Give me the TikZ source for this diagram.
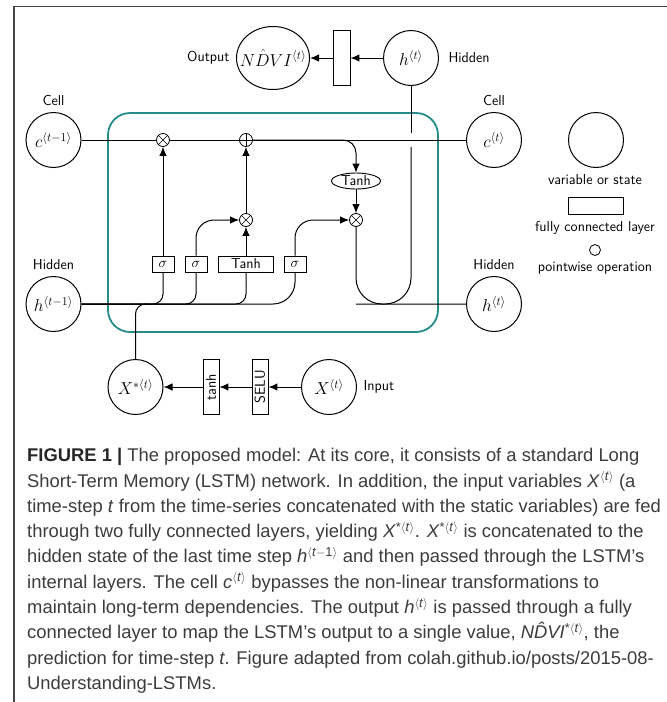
\documentclass[tikz,border=0pt]{standalone}
\usepackage{amsmath}
\usepackage{fontspec}
\usepackage{tikz}
\usetikzlibrary{calc}
\usetikzlibrary{positioning}
\usetikzlibrary{shapes.geometric}
\usetikzlibrary{arrows.meta}

\newfontfamily\capfont{Liberation Sans}
\definecolor{lstmteal}{RGB}{36,140,138}
\definecolor{framegray}{RGB}{70,70,70}
\definecolor{captext}{RGB}{60,60,60}
\newcommand{\capsup}[1]{\textsuperscript{#1$\langle$\textit{t}$\rangle$}}

\begin{document}
\begin{tikzpicture}[x=1pt,y=-1pt,
  every node/.style={font=\fontsize{14.4}{17}\selectfont\sffamily},
  wire/.style={line width=1pt},
  arr/.style={wire,-{Latex[length=9pt,width=7.5pt]}},
  var/.style={circle,draw,line width=1pt,minimum size=55pt,inner sep=0pt,font=\fontsize{17.28}{20}\selectfont},
  layer/.style={rectangle,draw,line width=0.9pt,minimum height=16pt,minimum width=22pt,inner sep=1pt},
  op/.style={circle,draw,line width=0.8pt,minimum size=13pt,inner sep=0pt,fill=white},
  mult/.style={op,path picture={\draw[line width=0.6pt] (path picture bounding box.south west) -- (path picture bounding box.north east) (path picture bounding box.north west) -- (path picture bounding box.south east);}},
  plus/.style={op,path picture={\draw[line width=0.6pt] (path picture bounding box.north) -- (path picture bounding box.south) (path picture bounding box.west) -- (path picture bounding box.east);}},
  capline/.style={anchor=base west,inner sep=0pt,text=captext,font=\capfont\fontsize{18.4}{22}\selectfont}]

\useasboundingbox (0,0) rectangle (667,702);
\draw[framegray,line width=1.3pt] (667,6.5) -- (14,6.5) -- (14,702);

% LSTM cell
\draw[lstmteal,line width=1.8pt,rounded corners=22] (108,113) rectangle (438,332);

\node[var] (cprev) at (53.5,140) {$c^{\langle t-1\rangle}$};
\node[var] (hprev) at (53.5,304) {$h^{\langle t-1\rangle}$};
\node[var] (cnext) at (494,140) {$c^{\langle t\rangle}$};
\node[var] (hnext) at (494,304) {$h^{\langle t\rangle}$};
\node[above=3pt of cprev] {Cell};
\node[above=3pt of hprev] {Hidden};
\node[above=3pt of cnext] {Cell};
\node[above=3pt of hnext] {Hidden};

\node[mult] (g1) at (163,140) {};
\node[plus] (g2) at (246,140) {};
\node[mult] (g3) at (246,220) {};
\node[mult] (g4) at (356,220) {};
\node[ellipse,draw,line width=0.9pt,minimum width=49pt,minimum height=16pt,inner sep=0pt] (tc) at (356,181) {Tanh};

\node[layer] (s1) at (163,264) {$\sigma$};
\node[layer] (s2) at (196,264) {$\sigma$};
\node[layer,minimum width=55pt] (tb) at (246,264) {Tanh};
\node[layer] (s3) at (295,264) {$\sigma$};

% output
\node[var] (htop) at (411,58) {$h^{\langle t\rangle}$};
\node[layer,minimum width=17pt,minimum height=55pt] (fcout) at (341.5,58) {};
\node[ellipse,draw,line width=1pt,minimum width=73pt,minimum height=63pt,inner sep=0pt,font=\fontsize{17.28}{20}\selectfont] (ndvi) at (273,58) {\makebox[40pt]{$N\hat{D}VI^{\langle t\rangle}$}};
\node[left=3pt of ndvi] {Output};
\node[right=6pt of htop] {Hidden};

% input
\node[var] (xin) at (329,387) {$X^{\langle t\rangle}$};
\node[layer,rotate=90,minimum width=55pt,minimum height=16pt] (fcselu) at (260,387) {SELU};
\node[layer,rotate=90,minimum width=55pt,minimum height=16pt] (fctanh) at (211,387) {tanh};
\node[var] (xstar) at (135.5,387) {$X^{*\langle t\rangle}$};
\node[right=3pt of xin] {Input};

% legend
\node[var] (legvar) at (596,140) {};
\node[anchor=base] at (595,184) {variable or state};
\node[layer,minimum width=55pt,minimum height=17pt] (leglayer) at (595.5,205.5) {};
\node[anchor=base] at (595,231) {fully connected layer};
\node[op,minimum size=11pt] (legop) at (595,250) {};
\node[anchor=base] at (595,271) {pointwise operation};

% cell state
\draw[wire] (cprev) -- (g1);
\draw[wire] (g1) -- (g2);
\draw[wire] (g2) -- (cnext);
\draw[arr,rounded corners=13] (g2.east) -| (tc.north);
\draw[arr] (tc) -- (g4);

% hidden state and input to the gates
\coordinate (join) at (150,304);
\draw[wire,rounded corners=10] (xstar.north) |- (join);
\draw[wire,rounded corners=10] (hprev.east) -| (s1);
\draw[wire,rounded corners=10] (hprev.east) -| (s2);
\draw[wire,rounded corners=10] (hprev.east) -| (tb);
\draw[wire,rounded corners=22] (hprev.east) -| (s3);
\draw[arr] (s1) -- (g1);
\draw[arr,rounded corners=18] (s2) |- (g3);
\draw[arr] (tb) -- (g3);
\draw[arr] (g3) -- (g2);
\draw[arr,rounded corners=18] (s3) |- (g4);

% new hidden state
\coordinate (cross) at (411,140);
\draw[wire,rounded corners=26] (g4) |- (hnext);
\draw[wire] (htop.south) -- ($(cross)+(0,-7)$);
\draw[wire,rounded corners=26] ($(cross)+(0,7)$) |- (g4 |- hnext);
\draw[arr] (htop) -- (fcout);
\draw[arr] (fcout) -- (ndvi);

\draw[arr] (xin) -- (fcselu);
\draw[arr] (fcselu) -- (fctanh);
\draw[arr] (fctanh) -- (xstar);

% caption
\node[capline] (cap1) at (27,461.7) {\textbf{\color{black!85}FIGURE 1 |} The proposed model: At its core, it consists of a standard Long};
\node[capline] (cap2) at (27,487) {Short-Term Memory (LSTM) network. In addition, the input variables \textit{X}\capsup{} (a};
\node[capline] (cap3) at (27,512.3) {time-step \textit{t} from the time-series concatenated with the static variables) are fed};
\node[capline] (cap4) at (27,537.6) {through two fully connected layers, yielding \textit{X}\capsup{*}. \textit{X}\capsup{*} is concatenated to the};
\node[capline] (cap5) at (27,562.9) {hidden state of the last time step \textit{h}\textsuperscript{$\langle$\textit{t}$-$1$\rangle$} and then passed through the LSTM’s};
\node[capline] (cap6) at (27,588.2) {internal layers. The cell \textit{c}\capsup{} bypasses the non-linear transformations to};
\node[capline] (cap7) at (27,613.5) {maintain long-term dependencies. The output \textit{h}\capsup{} is passed through a fully};
\node[capline] (cap8) at (27,638.8) {connected layer to map the LSTM’s output to a single value, \textit{N\^{D}VI}\capsup{*}, the};
\node[capline] (cap9) at (27,664.1) {prediction for time-step \textit{t}. Figure adapted from colah.github.io/posts/2015-08-};
\node[capline] (cap10) at (27,689.4) {Understanding-LSTMs.};
\end{tikzpicture}
\end{document}
